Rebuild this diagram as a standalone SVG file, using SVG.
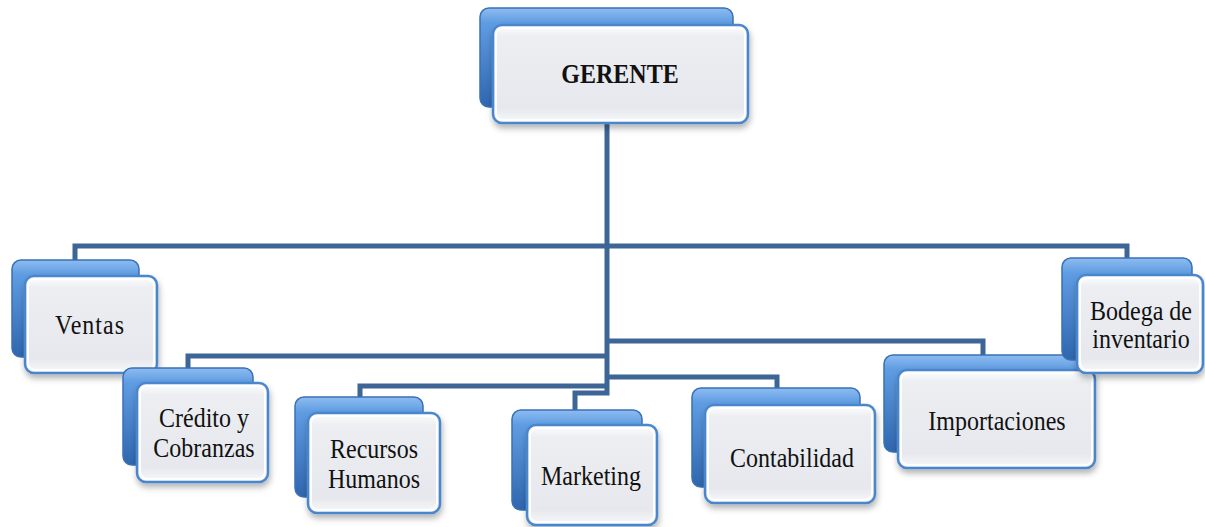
<svg xmlns="http://www.w3.org/2000/svg" width="1205" height="527" viewBox="0 0 1205 527">
<defs>
<linearGradient id="gBack" x1="0" y1="0" x2="0" y2="1">
<stop offset="0" stop-color="#8dbcf0"/>
<stop offset="0.15" stop-color="#5f9ce2"/>
<stop offset="1" stop-color="#2f66ae"/>
</linearGradient>
<linearGradient id="gFront" x1="0" y1="0" x2="0" y2="1">
<stop offset="0" stop-color="#ffffff"/>
<stop offset="0.12" stop-color="#eceef2"/>
<stop offset="0.85" stop-color="#e6e8ed"/>
<stop offset="1" stop-color="#f8f9fb"/>
</linearGradient>
<filter id="sh" x="-10%" y="-10%" width="125%" height="130%">
<feDropShadow dx="1" dy="4" stdDeviation="3" flood-color="#000" flood-opacity="0.3"/>
</filter>
</defs>
<style>
.back{fill:url(#gBack);stroke:#3a70b6;stroke-width:1.5}
.front{fill:url(#gFront);stroke:#4a86cc;stroke-width:2.5;filter:url(#sh)}
.hl{fill:none;stroke:#ffffff;stroke-width:2;opacity:0.9}
.conn{fill:none;stroke:#3d6595;stroke-width:5;stroke-linejoin:miter}
text{font-family:"Liberation Serif","Times New Roman",serif;font-size:24px;fill:#111;text-anchor:middle}
.b{font-weight:bold}
</style>
<rect width="1205" height="527" fill="#ffffff"/>
<g id="connectors">
<path class="conn" d="M607,123 V393 H575 V412"/>
<path class="conn" d="M75,262 V246 H1127 V260"/>
<path class="conn" d="M188,370 V356 H607"/>
<path class="conn" d="M607,341 H983 V357"/>
<path class="conn" d="M360,399 V386 H607"/>
<path class="conn" d="M607,377 H777 V390"/>
</g>
<g id="gerente">
<rect class="back" x="480" y="8" width="253" height="99" rx="9"/>
<rect class="front" x="493" y="25" width="255" height="98" rx="9"/>
<rect class="hl" x="496" y="28" width="249" height="92" rx="7"/>
<text class="b" transform="translate(620,83) scale(1,1.15)">GERENTE</text>
</g>
<g id="ventas">
<rect class="back" x="12" y="260" width="127" height="97" rx="9"/>
<rect class="front" x="25" y="276" width="132" height="97" rx="9"/>
<rect class="hl" x="28" y="279" width="126" height="91" rx="7"/>
<text transform="translate(90,334) scale(1,1.15)" letter-spacing="1">Ventas</text>
</g>
<g id="credito">
<rect class="back" x="123" y="368" width="130" height="97" rx="9"/>
<rect class="front" x="137" y="383" width="131" height="99" rx="9"/>
<rect class="hl" x="140" y="386" width="125" height="93" rx="7"/>
<text transform="translate(204,427) scale(1,1.15)">Crédito y</text>
<text transform="translate(204,457) scale(1,1.15)">Cobranzas</text>
</g>
<g id="recursos">
<rect class="back" x="295" y="397" width="128" height="100" rx="9"/>
<rect class="front" x="308" y="413" width="132" height="100" rx="9"/>
<rect class="hl" x="311" y="416" width="126" height="94" rx="7"/>
<text transform="translate(374,458) scale(1,1.15)">Recursos</text>
<text transform="translate(374,488) scale(1,1.15)">Humanos</text>
</g>
<g id="marketing">
<rect class="back" x="512" y="410" width="130" height="100" rx="9"/>
<rect class="front" x="527" y="425" width="130" height="100" rx="9"/>
<rect class="hl" x="530" y="428" width="124" height="94" rx="7"/>
<text transform="translate(591,485) scale(1,1.15)">Marketing</text>
</g>
<g id="contabilidad">
<rect class="back" x="692" y="388" width="168" height="99" rx="9"/>
<rect class="front" x="705" y="405" width="170" height="98" rx="9"/>
<rect class="hl" x="708" y="408" width="164" height="92" rx="7"/>
<text transform="translate(792,467) scale(1,1.15)">Contabilidad</text>
</g>
<g id="importaciones">
<rect class="back" x="884" y="355" width="196" height="97" rx="9"/>
<rect class="front" x="898" y="370" width="197" height="98" rx="9"/>
<rect class="hl" x="901" y="373" width="191" height="92" rx="7"/>
<text transform="translate(997,430) scale(1,1.15)">Importaciones</text>
</g>
<g id="bodega">
<rect class="back" x="1062" y="258" width="130" height="102" rx="9"/>
<rect class="front" x="1077" y="275" width="126" height="98" rx="9"/>
<rect class="hl" x="1080" y="278" width="120" height="92" rx="7"/>
<text transform="translate(1141,320) scale(1,1.15)">Bodega de</text>
<text transform="translate(1141,348) scale(1,1.15)">inventario</text>
</g>
</svg>
